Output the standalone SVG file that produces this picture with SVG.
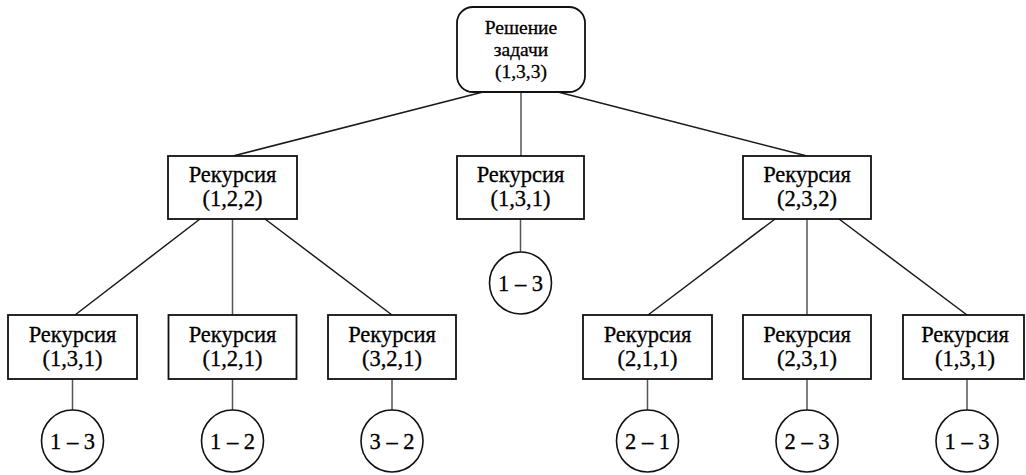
<svg xmlns="http://www.w3.org/2000/svg" width="1026" height="475" viewBox="0 0 1026 475">
<style>
.box{fill:#fff;stroke:#111;stroke-width:1.8}
.leaf{fill:#fff;stroke:#111;stroke-width:1.6}
.t{font-family:'Liberation Serif','Times New Roman',serif;font-size:22.5px;fill:#000;stroke:#000;stroke-width:0.3;text-anchor:middle}
.r{font-size:19.5px}
.c line{stroke:#1a1a1a;stroke-width:1.5}
.c line.v{stroke:#555}
</style>
<rect width="1026" height="475" fill="#fff"/>
<g id="connectors" class="c">
<line x1="483" y1="92" x2="233" y2="156"/>
<line class="v" x1="521" y1="92" x2="521" y2="156"/>
<line x1="558" y1="92" x2="807" y2="156"/>
<line x1="200" y1="219" x2="75" y2="315"/>
<line class="v" x1="232.5" y1="219" x2="232.5" y2="315"/>
<line x1="265" y1="219" x2="392" y2="315"/>
<line class="v" x1="520.5" y1="219" x2="520.5" y2="252"/>
<line x1="775" y1="219" x2="648" y2="315"/>
<line class="v" x1="807" y1="219" x2="807" y2="315"/>
<line x1="839" y1="219" x2="967" y2="315"/>
<line class="v" x1="72.5" y1="379" x2="72.5" y2="410"/>
<line class="v" x1="232.5" y1="379" x2="232.5" y2="410"/>
<line class="v" x1="392" y1="379" x2="392" y2="410"/>
<line class="v" x1="647.5" y1="379" x2="647.5" y2="410"/>
<line class="v" x1="807" y1="379" x2="807" y2="410"/>
<line class="v" x1="967" y1="379" x2="967" y2="410"/>
</g>
<g id="root">
<rect class="box" x="457" y="7" width="128" height="85" rx="16"/>
<text class="t r" x="521" y="34">Решение</text>
<text class="t r" x="521" y="56">задачи</text>
<text class="t r" x="521" y="78">(1,3,3)</text>
</g>
<g id="r122">
<rect class="box" x="168" y="156" width="129" height="63"/>
<text class="t" x="232.5" y="182">Рекурсия</text>
<text class="t" x="232.5" y="206">(1,2,2)</text>
</g>
<g id="r131m">
<rect class="box" x="457" y="156" width="127" height="63"/>
<text class="t" x="520.5" y="182">Рекурсия</text>
<text class="t" x="520.5" y="206">(1,3,1)</text>
</g>
<g id="r232">
<rect class="box" x="743" y="156" width="128" height="63"/>
<text class="t" x="807" y="182">Рекурсия</text>
<text class="t" x="807" y="206">(2,3,2)</text>
</g>
<g id="leafm">
<circle class="leaf" cx="520.5" cy="283" r="31"/>
<text class="t" x="520.5" y="291">1 – 3</text>
</g>
<g id="r131a">
<rect class="box" x="8" y="315" width="129" height="64"/>
<text class="t" x="72.5" y="342">Рекурсия</text>
<text class="t" x="72.5" y="366">(1,3,1)</text>
</g>
<g id="r121">
<rect class="box" x="168.5" y="315" width="128" height="64"/>
<text class="t" x="232.5" y="342">Рекурсия</text>
<text class="t" x="232.5" y="366">(1,2,1)</text>
</g>
<g id="r321">
<rect class="box" x="328" y="315" width="128" height="64"/>
<text class="t" x="392" y="342">Рекурсия</text>
<text class="t" x="392" y="366">(3,2,1)</text>
</g>
<g id="r211">
<rect class="box" x="583" y="315" width="129" height="64"/>
<text class="t" x="647.5" y="342">Рекурсия</text>
<text class="t" x="647.5" y="366">(2,1,1)</text>
</g>
<g id="r231">
<rect class="box" x="743" y="315" width="128" height="64"/>
<text class="t" x="807" y="342">Рекурсия</text>
<text class="t" x="807" y="366">(2,3,1)</text>
</g>
<g id="r131b">
<rect class="box" x="903" y="315" width="121" height="64"/>
<text class="t" x="965" y="342">Рекурсия</text>
<text class="t" x="965" y="366">(1,3,1)</text>
</g>
<g id="leaf1"><circle class="leaf" cx="72.5" cy="441" r="31"/><text class="t" x="72.5" y="449">1 – 3</text></g>
<g id="leaf2"><circle class="leaf" cx="232.5" cy="441" r="31"/><text class="t" x="232.5" y="449">1 – 2</text></g>
<g id="leaf3"><circle class="leaf" cx="392" cy="441" r="31"/><text class="t" x="392" y="449">3 – 2</text></g>
<g id="leaf4"><circle class="leaf" cx="647.5" cy="441" r="31"/><text class="t" x="647.5" y="449">2 – 1</text></g>
<g id="leaf5"><circle class="leaf" cx="807" cy="441" r="31"/><text class="t" x="807" y="449">2 – 3</text></g>
<g id="leaf6"><circle class="leaf" cx="967" cy="441" r="31"/><text class="t" x="967" y="449">1 – 3</text></g>
</svg>
